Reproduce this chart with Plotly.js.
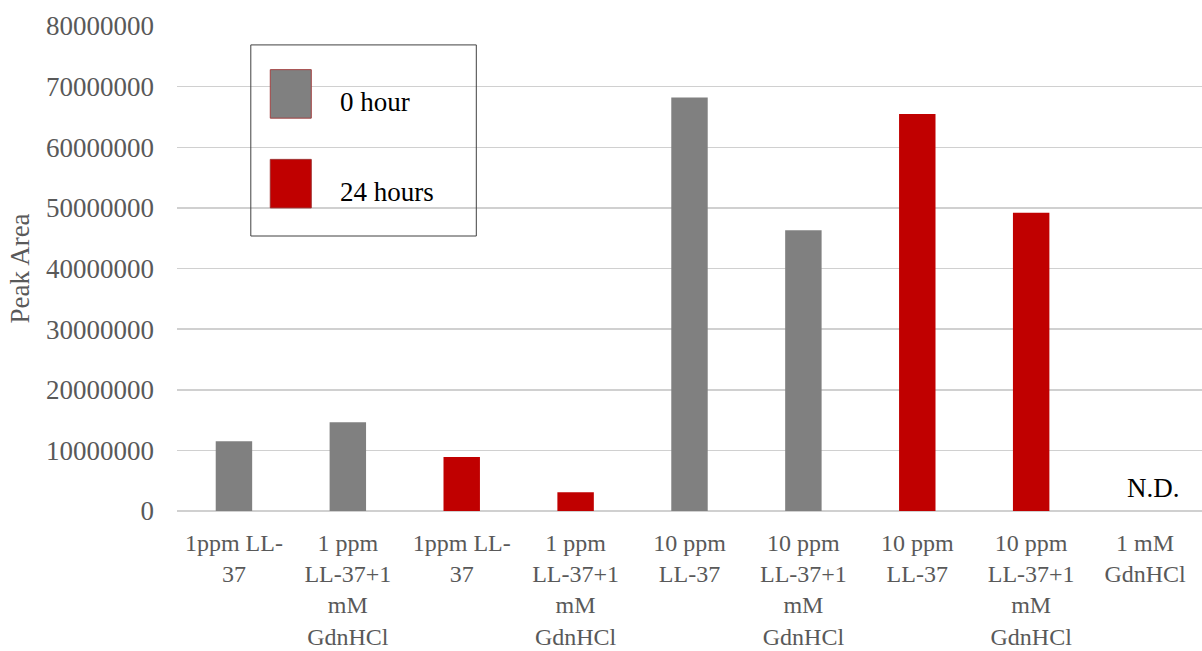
<!DOCTYPE html>
<html>
<head>
<meta charset="utf-8">
<script src="https://cdn.plot.ly/plotly-3.0.1.min.js"></script>
<style>
  html, body { margin: 0; padding: 0; background: #ffffff; }
  #chart { width: 1202px; height: 651px; }
</style>
</head>
<body>
<div id="chart"></div>
<script>
// Sample labels along the x axis (one column per sample)
const categories = [
  "1ppm LL-<br>37",
  "1 ppm<br>LL-37+1<br>mM<br>GdnHCl",
  "1ppm LL-<br>37",
  "1 ppm<br>LL-37+1<br>mM<br>GdnHCl",
  "10 ppm<br>LL-37",
  "10 ppm<br>LL-37+1<br>mM<br>GdnHCl",
  "10 ppm<br>LL-37",
  "10 ppm<br>LL-37+1<br>mM<br>GdnHCl",
  "1 mM<br>GdnHCl"
];
const positions = [0, 1, 2, 3, 4, 5, 6, 7, 8];

// Peak areas; null where the sample belongs to the other time point
const hour0 = [11500000, 14650000, null, null, 68200000, 46300000, null, null, null];
const hour24 = [null, null, 8900000, 3100000, null, null, 65500000, 49200000, null];

const seriesNames = ["0 hour", "24 hours"];
const seriesColors = ["#808080", "#C00000"];
const notDetectedIndex = 8;
const notDetectedText = "N.D.";

const yTicks = [0, 10000000, 20000000, 30000000, 40000000, 50000000, 60000000, 70000000, 80000000];

const FONT = "Liberation Serif";

const traces = [
  {
    type: "bar", x: positions, y: hour0, name: seriesNames[0],
    width: 0.32, marker: { color: seriesColors[0] }, showlegend: false,
    hoverinfo: "y"
  },
  {
    type: "bar", x: positions, y: hour24, name: seriesNames[1],
    width: 0.32, marker: { color: seriesColors[1] }, showlegend: false,
    hoverinfo: "y"
  }
];

// Boxed key with large swatches, placed in the upper-left of the plot area
const keyShapes = [
  { type: "rect", xref: "paper", yref: "paper", x0: 0.072, x1: 0.292, y0: 0.567, y1: 0.961,
    line: { color: "#404040", width: 1 }, fillcolor: "rgba(0,0,0,0)" },
  { type: "rect", xref: "paper", yref: "paper", x0: 0.091, x1: 0.131, y0: 0.81, y1: 0.91,
    line: { color: "#a04040", width: 1 }, fillcolor: seriesColors[0] },
  { type: "rect", xref: "paper", yref: "paper", x0: 0.091, x1: 0.131, y0: 0.625, y1: 0.725,
    line: { color: "#a03030", width: 1 }, fillcolor: seriesColors[1] }
];

const annotations = [
  { xref: "paper", yref: "paper", x: 0.157, y: 0.843, xanchor: "left", yanchor: "middle",
    text: seriesNames[0], showarrow: false, font: { family: FONT, size: 27, color: "#000000" } },
  { xref: "paper", yref: "paper", x: 0.157, y: 0.658, xanchor: "left", yanchor: "middle",
    text: seriesNames[1], showarrow: false, font: { family: FONT, size: 27, color: "#000000" } },
  { xref: "x", yref: "y", x: positions[notDetectedIndex], y: 0, yanchor: "bottom",
    xshift: 8, yshift: 6, text: notDetectedText, showarrow: false,
    font: { family: FONT, size: 27, color: "#000000" } }
];

const layout = {
  width: 1202, height: 651,
  margin: { l: 177, r: 0, t: 26, b: 140 },
  paper_bgcolor: "#ffffff", plot_bgcolor: "#ffffff",
  font: { family: FONT, size: 27, color: "#595959" },
  barmode: "overlay",
  showlegend: false,
  xaxis: {
    range: [-0.5, 8.5], tickmode: "array", tickvals: positions, ticktext: categories,
    showgrid: false, zeroline: false, showline: false, ticks: "", tickangle: 0,
    ticklabelstandoff: 15,
    tickfont: { family: FONT, size: 24, color: "#595959" }, fixedrange: true
  },
  yaxis: {
    range: [0, 80000000], tickmode: "array", tickvals: yTicks,
    ticktext: yTicks.map(v => String(v)),
    showgrid: true, gridcolor: "#d0d0d0", gridwidth: 1.5,
    zeroline: true, zerolinecolor: "#d0d0d0", zerolinewidth: 1.5,
    showline: false, ticks: "", ticklabelstandoff: 22,
    tickfont: { family: FONT, size: 27, color: "#595959" },
    title: { text: "Peak Area", font: { family: FONT, size: 27, color: "#595959" }, standoff: 8 },
    fixedrange: true
  },
  shapes: keyShapes,
  annotations: annotations
};

Plotly.newPlot("chart", traces, layout, { displayModeBar: false, staticPlot: true });
</script>
</body>
</html>
